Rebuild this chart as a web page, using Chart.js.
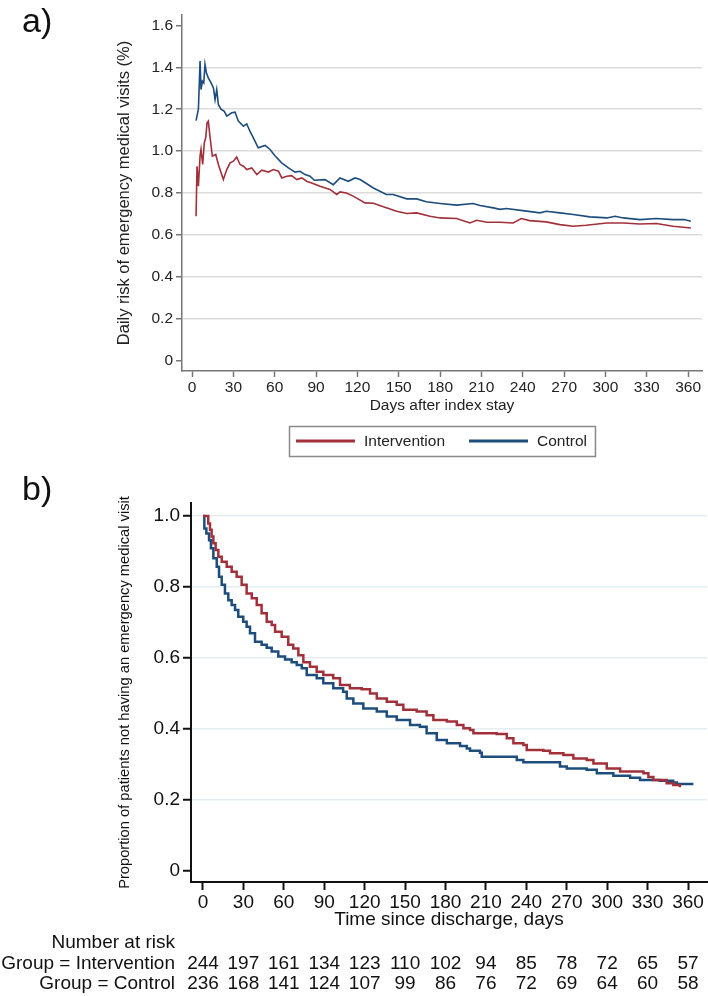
<!DOCTYPE html>
<html>
<head>
<meta charset="utf-8">
<script src="https://cdn.jsdelivr.net/npm/chart.js@4.4.1/dist/chart.umd.min.js"></script>
<style>
  html, body { margin: 0; padding: 0; background: #fff; }
  #page { position: relative; width: 708px; height: 996px; overflow: hidden; font-family: "Liberation Sans", Arial, sans-serif; }
  .panelLabel { position: absolute; left: 22px; font-size: 34px; line-height: 34px; color: #111; }
  #chartA { position: absolute; left: 0; top: 0; }
  #chartB { position: absolute; left: 0; top: 460px; }
</style>
</head>
<body>
<div id="page">
  <canvas id="chartA" width="708" height="470"></canvas>
  <canvas id="chartB" width="708" height="536"></canvas>
  <div class="panelLabel" style="top:3px">a)</div>
  <div class="panelLabel" style="top:471px">b)</div>
</div>
<script>
// panel a: daily risk of emergency medical visits (%)
let aDaysIntervention = [2.9, 3.6, 4.6, 5.8, 6.5, 7.7, 8.9, 9.9, 10.9, 11.8, 13, 14.7, 17.2, 19.1, 22.7, 25.2, 27.6, 30, 32.4, 34.8,
  37.3, 39.7, 43.3, 47, 50.6, 55.4, 59, 62.7, 65.1, 68.7, 72.3, 76, 79.6, 83.2, 86.8, 92.9, 100, 105, 107.4, 112,
  117, 125.5, 131.6, 138.8, 148.5, 155.8, 163, 172.7, 180, 192, 201.7, 206.6, 214, 223.5, 233, 239, 245, 257, 267, 276.7,
  286, 301, 313, 325, 337, 349, 362];
let aRiskIntervention = [0.689, 0.928, 0.833, 0.976, 1.008, 0.936, 1.04, 1.063, 1.135, 1.143, 1.071, 0.976, 0.984, 0.936, 0.864, 0.912, 0.944, 0.952, 0.972, 0.936,
  0.928, 0.912, 0.92, 0.888, 0.909, 0.9, 0.912, 0.904, 0.872, 0.88, 0.883, 0.864, 0.872, 0.856, 0.848, 0.832, 0.817, 0.793, 0.805, 0.8,
  0.785, 0.753, 0.751, 0.734, 0.713, 0.702, 0.705, 0.689, 0.681, 0.678, 0.657, 0.67, 0.66, 0.66, 0.657, 0.678, 0.668, 0.662, 0.649, 0.641,
  0.646, 0.657, 0.657, 0.652, 0.654, 0.641, 0.633];

let aDaysControl = [2.9, 4.6, 5.3, 5.8, 6.5, 7.5, 8.5, 9.4, 10.4, 11.8, 13.8, 15.5, 16.7, 17.9, 19.1, 21, 23.4, 25.2, 28.8, 31.2,
  33.6, 37.3, 39.7, 42, 44.5, 48, 53, 56.6, 60, 65, 70, 74.7, 78.4, 82, 85.6, 88.8, 96.5, 102.5, 107.4, 113.4,
  118.3, 122, 131.6, 141, 146, 155.8, 163, 170, 180, 192, 204, 209, 218.7, 223.5, 228, 240, 252.5, 257, 267, 276.7,
  288.8, 301, 307, 313, 325, 337, 349, 357, 362];
let aRiskControl = [1.146, 1.2, 1.33, 1.43, 1.294, 1.334, 1.326, 1.414, 1.374, 1.35, 1.326, 1.302, 1.246, 1.294, 1.222, 1.2, 1.19, 1.167, 1.183, 1.186,
  1.143, 1.119, 1.13, 1.095, 1.063, 1.016, 1.027, 1.008, 0.979, 0.944, 0.92, 0.9, 0.904, 0.888, 0.88, 0.861, 0.864, 0.84, 0.872, 0.856,
  0.872, 0.864, 0.824, 0.793, 0.793, 0.772, 0.772, 0.758, 0.75, 0.742, 0.75, 0.74, 0.729, 0.722, 0.726, 0.716, 0.705, 0.713, 0.705, 0.697,
  0.686, 0.681, 0.689, 0.681, 0.673, 0.678, 0.673, 0.673, 0.665];

let riskTicks = [0, 0.2, 0.4, 0.6, 0.8, 1.0, 1.2, 1.4, 1.6];
let dayTicks = [0, 30, 60, 90, 120, 150, 180, 210, 240, 270, 300, 330, 360];

// panel b: Kaplan-Meier, proportion without emergency visit
let kmDaysIntervention = [0, 2.2, 3.9, 5.2, 6.4, 7.7, 9.4, 11.4, 13.9, 17.6, 21.3, 25, 28.7, 32.4, 36.2, 39.9, 43.5, 47.3, 51, 53.5,
  58.4, 63.3, 67, 70.8, 74.5, 79.4, 84.4, 89.3, 96.7, 101.7, 109, 117.8, 124, 129, 136.4, 143.8, 148.7, 158.6, 166, 171,
  181, 188.4, 193.3, 198.2, 200.7, 218, 225.5, 230.4, 237.8, 240.3, 252.6, 257.6, 267.5, 274.9, 284.8, 289.8, 299.7, 309.6, 326.9, 330.6,
  334.3, 344.2, 349.1, 354];
let kmSurvIntervention = [1.0, 1.0, 0.979, 0.961, 0.942, 0.923, 0.904, 0.885, 0.871, 0.857, 0.843, 0.829, 0.806, 0.782, 0.768, 0.749, 0.726, 0.702, 0.693, 0.674,
  0.66, 0.637, 0.627, 0.608, 0.588, 0.575, 0.561, 0.552, 0.543, 0.524, 0.515, 0.512, 0.5, 0.486, 0.477, 0.468, 0.454, 0.449, 0.439, 0.425,
  0.421, 0.411, 0.402, 0.397, 0.388, 0.386, 0.374, 0.36, 0.355, 0.341, 0.339, 0.332, 0.327, 0.317, 0.313, 0.303, 0.289, 0.28, 0.275, 0.265,
  0.256, 0.247, 0.242, 0.236];

let kmDaysControl = [0, 1, 2.5, 4.5, 5.9, 7.7, 10.2, 11.9, 13.9, 16.3, 18.8, 21.3, 23.8, 26.2, 29.9, 32.4, 34.9, 38.6, 43.5, 47.3,
  51, 55.9, 60.9, 65.8, 69.6, 73.3, 77, 84.4, 89.3, 96.7, 104, 106.7, 111.6, 119, 129, 136.4, 143.8, 153.7, 161, 166,
  173.5, 181, 190.8, 195.8, 198.2, 205.6, 206.9, 232.9, 237.8, 265, 270, 284.8, 292.3, 304.6, 317, 324.4, 339, 349, 351.7, 364];
let kmSurvControl = [1.0, 0.965, 0.951, 0.932, 0.909, 0.881, 0.857, 0.829, 0.806, 0.782, 0.763, 0.749, 0.735, 0.716, 0.702, 0.688, 0.67, 0.646, 0.637, 0.629,
  0.618, 0.604, 0.596, 0.588, 0.58, 0.571, 0.552, 0.543, 0.529, 0.515, 0.505, 0.486, 0.472, 0.458, 0.449, 0.435, 0.425, 0.411, 0.406, 0.388,
  0.369, 0.36, 0.352, 0.345, 0.339, 0.333, 0.322, 0.313, 0.306, 0.294, 0.289, 0.285, 0.275, 0.268, 0.263, 0.256, 0.254, 0.249, 0.245, 0.245];

let survTicks = [0, 0.2, 0.4, 0.6, 0.8, 1.0];
let atRiskDays = [0, 30, 60, 90, 120, 150, 180, 210, 240, 270, 300, 330, 360];
let atRiskIntervention = [244, 197, 161, 134, 123, 110, 102, 94, 85, 78, 72, 65, 57];
let atRiskControl = [236, 168, 141, 124, 107, 99, 86, 76, 72, 69, 64, 60, 58];

const FONT = '"Liberation Sans", Arial, sans-serif';
const RED = "#a2303a";
const BLUE = "#1d4d7c";

Chart.defaults.font.family = FONT;
Chart.defaults.color = "#222";

function toXY(xs, ys) {
  return xs.map((x, i) => ({ x: x, y: ys[i] }));
}

function tickLabel(v) {
  return v === 0 ? "0" : v.toFixed(1);
}

// legend with a box round it, under panel a
const boxLegend = {
  id: "boxLegend",
  afterDraw(chart) {
    let ctx = chart.ctx;
    let area = chart.chartArea;
    let sets = chart.data.datasets;
    ctx.save();
    ctx.font = "15.5px " + FONT;
    let widths = sets.map(d => ctx.measureText(d.label).width);
    let total = 7 + 8 + (sets.length - 1) * 24;
    widths.forEach(w => { total += 59 + 9 + w; });
    let left = Math.round((area.left + area.right) / 2 - total / 2);
    let top = 426, h = 30;
    ctx.strokeStyle = "#8a8a8a";
    ctx.lineWidth = 1.5;
    ctx.strokeRect(left + 0.5, top + 0.5, total, h);
    let x = left + 7;
    let yMid = top + h / 2;
    sets.forEach((d, i) => {
      ctx.strokeStyle = d.borderColor;
      ctx.lineWidth = 3;
      ctx.beginPath();
      ctx.moveTo(x, yMid);
      ctx.lineTo(x + 59, yMid);
      ctx.stroke();
      x += 59 + 9;
      ctx.fillStyle = "#222";
      ctx.textBaseline = "middle";
      ctx.textAlign = "left";
      ctx.fillText(d.label, x, yMid + 1);
      x += widths[i] + 24;
    });
    ctx.restore();
  }
};

// number at risk table, under panel b
const riskTable = {
  id: "riskTable",
  afterDraw(chart) {
    let ctx = chart.ctx;
    let xs = chart.scales.x;
    ctx.save();
    ctx.font = "19px " + FONT;
    ctx.fillStyle = "#111";
    ctx.textBaseline = "middle";
    ctx.textAlign = "right";
    ctx.fillText("Number at risk", 175, 483);
    ctx.fillText("Group = Intervention", 175, 504);
    ctx.fillText("Group = Control", 175, 524);
    ctx.textAlign = "center";
    atRiskDays.forEach((d, i) => {
      let px = xs.getPixelForValue(d);
      ctx.fillText(String(atRiskIntervention[i]), px, 504);
      ctx.fillText(String(atRiskControl[i]), px, 524);
    });
    ctx.restore();
  }
};

new Chart(document.getElementById("chartA"), {
  type: "line",
  data: {
    datasets: [
      { label: "Intervention", data: toXY(aDaysIntervention, aRiskIntervention), borderColor: RED, borderWidth: 1.6, pointRadius: 0, tension: 0 },
      { label: "Control", data: toXY(aDaysControl, aRiskControl), borderColor: BLUE, borderWidth: 1.6, pointRadius: 0, tension: 0 }
    ]
  },
  options: {
    responsive: false,
    animation: false,
    layout: { padding: { left: 110, top: 15, right: 6, bottom: 49 } },
    plugins: { legend: { display: false }, tooltip: { enabled: false } },
    scales: {
      x: {
        type: "linear", min: -7.3, max: 370.1,
        afterBuildTicks: s => { s.ticks = dayTicks.map(v => ({ value: v })); },
        afterFit: s => { s.height = 50; },
        grid: { drawOnChartArea: false, tickLength: 6, tickColor: "#777", tickWidth: 1.5 },
        border: { color: "#777", width: 1.5 },
        ticks: { font: { size: 15.5 }, padding: 1, maxRotation: 0, autoSkip: false, callback: v => String(v) },
        title: { display: true, text: "Days after index stay", font: { size: 15.5 }, padding: { top: 0, bottom: 6 } }
      },
      y: {
        type: "linear", min: -0.05, max: 1.65,
        afterBuildTicks: s => { s.ticks = riskTicks.map(v => ({ value: v })); },
        afterFit: s => { s.width = 72; },
        grid: {
          color: c => (c.tick && (c.tick.value === 0 || c.tick.value === 1.6)) ? "rgba(0,0,0,0)" : "#dcdcdc",
          lineWidth: 1.5, tickLength: 6, tickColor: "#777", tickWidth: 1.5
        },
        border: { color: "#777", width: 1.5 },
        ticks: { font: { size: 15.5 }, padding: 3, callback: v => tickLabel(v) },
        title: { display: true, text: "Daily risk of emergency medical visits (%)", font: { size: 16.5 }, padding: { top: 5, bottom: 0 } }
      }
    }
  },
  plugins: [boxLegend]
});

new Chart(document.getElementById("chartB"), {
  type: "line",
  data: {
    datasets: [
      { label: "Intervention", data: toXY(kmDaysIntervention, kmSurvIntervention), borderColor: RED, borderWidth: 2.5, pointRadius: 0, stepped: true },
      { label: "Control", data: toXY(kmDaysControl, kmSurvControl), borderColor: BLUE, borderWidth: 2.5, pointRadius: 0, stepped: true }
    ]
  },
  options: {
    responsive: false,
    animation: false,
    layout: { padding: { left: 110, top: 43, right: 1, bottom: 64 } },
    plugins: { legend: { display: false }, tooltip: { enabled: false } },
    scales: {
      x: {
        type: "linear", min: -8.9, max: 374.1,
        afterBuildTicks: s => { s.ticks = dayTicks.map(v => ({ value: v })); },
        afterFit: s => { s.height = 50; },
        grid: { drawOnChartArea: false, tickLength: 8, tickColor: "#111", tickWidth: 2 },
        border: { color: "#111", width: 2 },
        ticks: { font: { size: 19 }, color: "#111", padding: 1, maxRotation: 0, autoSkip: false, callback: v => String(v) },
        title: { display: true, text: "Time since discharge, days", font: { size: 19 }, color: "#111", padding: { top: 0, bottom: 1 } }
      },
      y: {
        type: "linear", min: -0.031, max: 1.0366,
        afterBuildTicks: s => { s.ticks = survTicks.map(v => ({ value: v })); },
        afterFit: s => { s.width = 81; },
        grid: {
          color: c => (c.tick && c.tick.value === 0) ? "rgba(0,0,0,0)" : "#e4eef2",
          lineWidth: 1.5, tickLength: 8, tickColor: "#111", tickWidth: 2
        },
        border: { color: "#111", width: 2 },
        ticks: { font: { size: 19 }, color: "#111", padding: 3, callback: v => tickLabel(v) },
        title: { display: true, text: "Proportion of patients not having an emergency medical visit", font: { size: 14.7 }, color: "#111", padding: { top: 6, bottom: 0 } }
      }
    }
  },
  plugins: [riskTable]
});
</script>
</body>
</html>
